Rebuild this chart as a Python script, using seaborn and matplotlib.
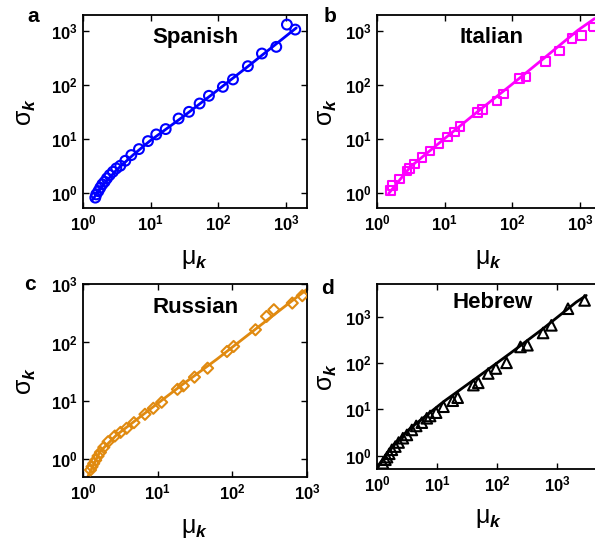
import numpy as np
import matplotlib
matplotlib.use('Agg')
import matplotlib.pyplot as plt
from matplotlib.ticker import FixedLocator, FuncFormatter, NullLocator
import seaborn as sns

# ---- data (mu_k, sigma_k) ----
spanish_mu = [1.52, 1.57, 1.69, 1.80, 1.93, 2.09, 2.26, 2.48, 2.77, 3.11, 3.56, 4.22, 5.18,
              6.72, 9.13, 12.1, 16.7, 25.9, 36.9, 53.0, 72.8, 117, 165, 274, 442, 720, 1035, 1374]
spanish_sigma = [0.81, 0.93, 1.07, 1.24, 1.43, 1.60, 1.85, 2.13, 2.45, 2.83, 3.17, 3.92, 5.00,
                 6.46, 9.09, 12.1, 15.2, 23.9, 31.8, 45.4, 63.1, 92.6, 127, 224, 385, 512, 1327, 1072]
spanish_fit_mu = [1.37, 1.98, 3.11, 5.48, 9.67, 30.0, 93.4, 290, 903, 1422]
spanish_fit_sigma = [0.73, 1.39, 2.63, 5.00, 9.09, 25.7, 76.9, 234, 730, 1151]

italian_mu = [1.58, 1.71, 2.17, 2.79, 3.02, 3.58, 4.66, 6.05, 8.24, 11.0, 14.1, 16.9, 30.5,
              36.3, 59.2, 74.3, 127, 160, 309, 499, 761, 1047, 1560]
italian_sigma = [1.09, 1.35, 1.79, 2.52, 2.83, 3.40, 4.53, 5.93, 8.23, 10.9, 13.5, 16.8, 30.9,
                 35.2, 50.2, 67.7, 132, 142, 277, 431, 730, 842, 1202]
italian_fit_mu = [1.49, 3.13, 9.77, 30.5, 95.5, 299, 933, 1650]
italian_fit_sigma = [0.97, 3.04, 9.90, 31.8, 99.5, 320, 1042, 1715]

russian_mu = [1.26, 1.32, 1.39, 1.48, 1.59, 1.71, 1.90, 2.17, 2.67, 3.18, 3.83, 4.81, 6.76,
              8.75, 11.3, 18.4, 22.1, 31.1, 46.6, 84.8, 104, 204, 287, 360, 635, 865]
russian_sigma = [0.66, 0.75, 0.85, 0.97, 1.14, 1.32, 1.61, 2.01, 2.51, 2.90, 3.40, 4.25, 5.91,
                 7.49, 9.49, 15.8, 18.1, 25.5, 36.3, 70.1, 85.4, 165, 279, 363, 472, 631]
russian_fit_mu = [1.17, 1.68, 2.81, 7.89, 22.1, 62.2, 175, 491, 1010]
russian_fit_sigma = [0.52, 1.35, 2.61, 7.20, 19.6, 51.8, 145, 403, 820]

hebrew_mu = [1.26, 1.38, 1.47, 1.60, 1.77, 2.02, 2.29, 2.70, 3.15, 3.81, 4.50, 5.58, 6.76, 7.68,
             9.66, 12.8, 18.3, 22.1, 40.3, 48.7, 71.4, 95.7, 144, 246, 321, 585, 804, 1521, 2877]
hebrew_sigma = [0.68, 0.81, 0.92, 1.09, 1.33, 1.56, 1.91, 2.37, 2.79, 3.58, 4.37, 5.15, 6.40, 7.18,
                8.47, 11.4, 15.4, 17.9, 33.5, 37.6, 59.8, 76.7, 102, 225, 245, 452, 661, 1514, 2290]
hebrew_fit_mu = [1.07, 1.89, 3.58, 12.8, 45.7, 164, 585, 2089, 3065]
hebrew_fit_sigma = [0.63, 1.70, 3.89, 14.6, 48.2, 162, 560, 2108, 2936]

sns.set_style("ticks")
plt.rcParams['font.family'] = ['Liberation Sans', 'DejaVu Sans']
plt.rcParams['font.weight'] = 'bold'
plt.rcParams['text.color'] = 'black'
plt.rcParams['axes.labelcolor'] = 'black'
plt.rcParams['xtick.color'] = 'black'
plt.rcParams['ytick.color'] = 'black'
plt.rcParams['mathtext.fontset'] = 'custom'
plt.rcParams['mathtext.rm'] = 'Liberation Sans:regular'
plt.rcParams['mathtext.it'] = 'Liberation Sans:italic:bold'
plt.rcParams['mathtext.bf'] = 'Liberation Sans:bold'

W, H = 595, 544
fig = plt.figure(figsize=(W / 100, H / 100), dpi=100)

panels = [
    # letter, name, mu, sigma, fit mu, fit sigma, colour, marker, size, box(px), xlim, ylim, title pos, ylabel x, letter pos
    ('a', 'Spanish', spanish_mu, spanish_sigma, spanish_fit_mu, spanish_fit_sigma,
     '#0000FF', 'o', 50, (83, 15, 224, 193), (1, 2050), (0.52, 2000), (0.5, 0.886), -0.20, (33, 17)),
    ('b', 'Italian', italian_mu, italian_sigma, italian_fit_mu, italian_fit_sigma,
     '#FF00FF', 's', 38, (377, 15, 224, 193), (1, 2050), (0.52, 2000), (0.513, 0.886), -0.17, (330, 17)),
    ('c', 'Russian', russian_mu, russian_sigma, russian_fit_mu, russian_fit_sigma,
     '#E08A10', 'D', 32, (83, 284, 224, 193), (1, 1000), (0.5, 1000), (0.504, 0.88), -0.20, (30, 285)),
    ('d', 'Hebrew', hebrew_mu, hebrew_sigma, hebrew_fit_mu, hebrew_fit_sigma,
     '#000000', '^', 58, (377, 284, 224, 185), (1, 5400), (0.51, 5200), (0.515, 0.90), -0.17, (328, 288)),
]

fmt = FuncFormatter(lambda v, p: r'$\mathbf{10^{%d}}$' % round(np.log10(v)))

for (letter, name, mu, sig, fmu, fsig, col, mk, sz, box, xl, yl, tpos, ylx, lpos) in panels:
    x0, y0, w, h = box
    ax = fig.add_axes([x0 / W, 1 - (y0 + h) / H, w / W, h / H])
    ax.set_xscale('log')
    ax.set_yscale('log')
    sns.scatterplot(x=mu, y=sig, ax=ax, marker=mk, s=sz, facecolor='none',
                    edgecolor=col, linewidth=1.5, zorder=3)
    sns.lineplot(x=fmu, y=fsig, ax=ax, color=col, linewidth=2.0, sort=False,
                 estimator=None, zorder=2)
    ax.set_xlim(*xl)
    ax.set_ylim(*yl)
    ax.xaxis.set_major_locator(FixedLocator([1, 10, 100, 1000]))
    ax.yaxis.set_major_locator(FixedLocator([1, 10, 100, 1000]))
    ax.xaxis.set_minor_locator(NullLocator())
    ax.yaxis.set_minor_locator(NullLocator())
    ax.xaxis.set_major_formatter(fmt)
    ax.yaxis.set_major_formatter(fmt)
    ax.tick_params(direction='in', length=4, width=1, top=True, right=True,
                   labelsize=12, pad=4, colors='black')
    for s in ax.spines.values():
        s.set_linewidth(1.3)
        s.set_color('black')
    ax.set_xlabel(r'$\mathrm{\mu}_{\mathit{k}}$', fontsize=18)
    ax.set_ylabel(r'$\mathrm{\sigma}_{\mathit{k}}$', fontsize=18)
    ax.xaxis.set_label_coords(0.5, -0.20)
    ax.yaxis.set_label_coords(ylx, 0.5)
    ax.text(tpos[0], tpos[1], name, transform=ax.transAxes, ha='center', va='center',
            fontsize=16, fontweight='bold', color='black')
    fig.text(lpos[0] / W, 1 - lpos[1] / H, letter, ha='center', va='center',
             fontsize=15, fontweight='bold', color='black')

fig.savefig('out.png', dpi=100, facecolor='white')
